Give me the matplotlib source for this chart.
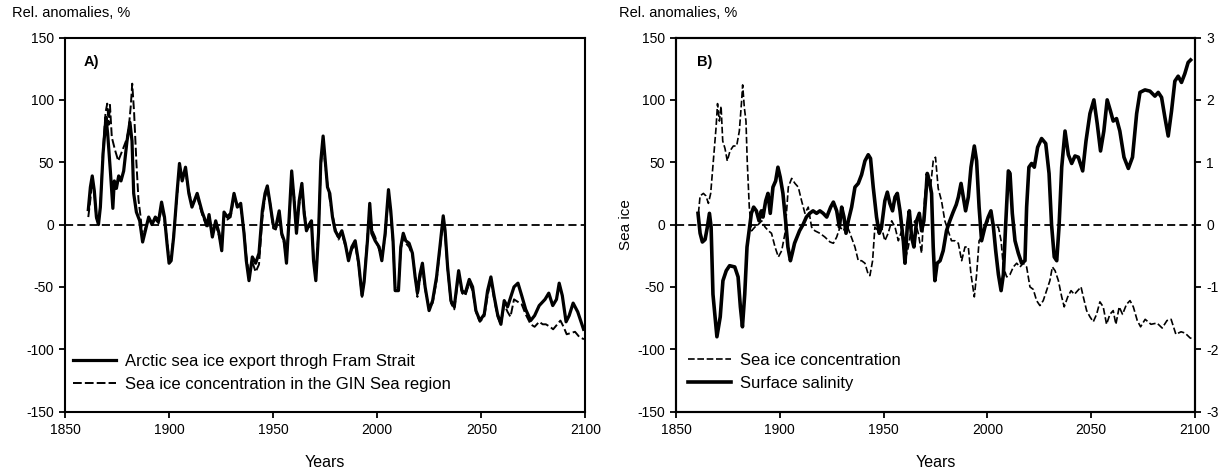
import numpy as np
import matplotlib.pyplot as plt

plt.rcParams['font.family'] = ['Liberation Sans', 'DejaVu Sans']
plt.rcParams['axes.unicode_minus'] = False

# ---- panel A : Fram Strait export vs GIN sea ice concentration (%)
yr_export = [1861.2, 1862.2, 1863.1, 1864.1, 1865.1, 1866.1, 1867, 1868.3, 1869.7, 1870.5,
             1871.8, 1873, 1873.7, 1874.7, 1875.8, 1876.9, 1878.2, 1879.8, 1881.2, 1882.2,
             1883, 1884.3, 1885.9, 1887.3, 1888.6, 1890.2, 1891.8, 1893.4, 1895, 1896.4,
             1897.8, 1899, 1900, 1901, 1902.2, 1903.8, 1905, 1906.3, 1907.9, 1909.5,
             1911, 1913.5, 1915.9, 1918.3, 1919.2, 1920.8, 1922.4, 1924, 1925.3, 1926.4,
             1928, 1929.6, 1931.2, 1932.8, 1934.4, 1936, 1937.1, 1938.4, 1940, 1941.6,
             1943.2, 1944.8, 1946.1, 1947.2, 1948.5, 1950, 1951.3, 1952.9, 1954.1, 1955.3,
             1956.4, 1957.7, 1958.9, 1960.1, 1961.2, 1962.5, 1963.8, 1964.9, 1966, 1967.3,
             1968.4, 1969.4, 1970.5, 1971.8, 1972.9, 1974, 1975, 1976.1, 1977.2, 1978.5,
             1979.8, 1981.4, 1983, 1984.6, 1986.2, 1987.8, 1989.4, 1991, 1992.7, 1993.7,
             1995.3, 1996.4, 1997.4, 1999, 2000.9, 2002.2, 2003.8, 2005.4, 2006.5, 2007.6,
             2008.6, 2010.2, 2011.3, 2012.5, 2013.7, 2015.3, 2016.9, 2018.2, 2019.3, 2020.5,
             2021.7, 2023, 2024.9, 2026.6, 2028.5, 2030.1, 2031.7, 2032.6, 2033.8, 2035.4,
             2037, 2039.1, 2040.7, 2042.3, 2044.2, 2045.8, 2047.4, 2049.3, 2051.4, 2053,
             2054.6, 2056.2, 2057.8, 2059.4, 2061, 2062.6, 2065.7, 2067.6, 2069.4, 2071.3,
             2073.7, 2075.6, 2077.8, 2080.6, 2082.4, 2084.3, 2086.1, 2087.4, 2088.9, 2090.7,
             2092.2, 2094.1, 2096.3, 2099.1]
export = [12, 30, 39, 27, 6, 0, 14, 57, 86, 73,
          43, 13, 35, 29, 39, 35, 43, 67, 82, 67,
          25, 10, 3, -14, -5, 6, 0, 6, 3, 18,
          6, -15, -31, -29, -10, 25, 49, 35, 46, 25,
          14, 25, 10, -1, 8, -10, 3, -7, -21, 10,
          6, 9, 25, 14, 17, -7, -29, -45, -26, -31,
          -23, 11, 25, 31, 17, 0, -2, 11, -7, -13,
          -31, 6, 43, 19, -7, 19, 33, 9, -5, 0,
          3, -29, -45, -7, 51, 71, 51, 30, 25, 6,
          -5, -10, -5, -15, -29, -18, -13, -30, -57, -46,
          -13, 17, -7, -13, -18, -29, -7, 28, 11, -13,
          -53, -53, -18, -7, -13, -15, -23, -42, -55, -40,
          -31, -50, -69, -61, -42, -18, 7, -5, -34, -61,
          -66, -37, -53, -55, -44, -50, -69, -77, -72, -53,
          -42, -58, -72, -80, -61, -66, -50, -47, -57, -68,
          -77, -73, -65, -60, -55, -65, -60, -47, -57, -78,
          -73, -63, -70, -84]

yr_gin = [1861.2, 1862.2, 1863.1, 1864.1, 1865.1, 1866.1, 1867, 1868.3, 1869.5, 1870.3,
          1871, 1871.6, 1872.5, 1874, 1875.6, 1877, 1878.4, 1879.5, 1880.5, 1881.6,
          1882.3, 1883.2, 1884.3, 1885.3, 1886.2, 1887.3, 1888.6, 1890.2, 1891.8, 1893.4,
          1895, 1896.4, 1897.8, 1899, 1900, 1901, 1902.2, 1903.8, 1905, 1906.3,
          1907.9, 1909.5, 1911, 1913.5, 1915.9, 1918.3, 1919.2, 1920.8, 1922.4, 1924,
          1925.3, 1926.4, 1928, 1929.6, 1931.2, 1932.8, 1934.4, 1936, 1937.1, 1938.4,
          1940, 1941.6, 1943.2, 1944.8, 1946.1, 1947.2, 1948.5, 1950, 1951.3, 1952.9,
          1954.1, 1955.3, 1956.4, 1957.7, 1958.9, 1960.1, 1961.2, 1962.5, 1963.8, 1964.9,
          1966, 1967.3, 1968.4, 1969.4, 1970.5, 1971.8, 1972.9, 1974, 1975, 1976.1,
          1977.2, 1978.5, 1979.8, 1981.4, 1983, 1984.6, 1986.2, 1987.8, 1989.4, 1991,
          1992.7, 1993.7, 1995.3, 1996.4, 1997.4, 1999, 2000.9, 2002.2, 2003.8, 2005.4,
          2006.5, 2007.6, 2008.6, 2010.2, 2011.3, 2012.5, 2013.7, 2015.3, 2016.9, 2018.2,
          2019.3, 2020.5, 2021.7, 2023, 2024.9, 2026.6, 2028.5, 2030.1, 2031.7, 2032.6,
          2033.8, 2035.4, 2037, 2039.1, 2040.7, 2042.3, 2044.2, 2045.8, 2047.4, 2049.3,
          2051.4, 2053, 2054.6, 2056.2, 2057.8, 2059.4, 2061, 2062.6, 2064, 2065.7,
          2067.6, 2069.4, 2071.3, 2073.7, 2075.6, 2077.8, 2079.5, 2081, 2083, 2084.5,
          2086.5, 2088, 2089.5, 2091, 2093, 2095, 2097, 2099.3]
gin = [6, 20, 35, 25, 5, 2, 15, 60, 90, 97,
       80, 96, 70, 60, 51, 57, 63, 68, 75, 95,
       113, 90, 50, 20, 8, -10, -3, 5, 2, 4,
       1, 14, 4, -12, -28, -27, -8, 22, 46, 38,
       42, 27, 16, 22, 8, -3, 6, -8, 0, -9,
       -18, 6, 4, 6, 22, 16, 14, -5, -25, -40,
       -30, -38, -32, 5, 22, 28, 18, -3, -4, 8,
       -9, -15, -28, 4, 40, 22, -4, 16, 30, 12,
       -2, -2, 0, -25, -42, -4, 46, 66, 48, 32,
       20, 8, -3, -12, -7, -17, -26, -20, -16, -32,
       -58, -44, -10, 14, -4, -10, -20, -27, -10, 24,
       9, -16, -52, -50, -20, -10, -15, -18, -25, -40,
       -58, -44, -34, -52, -67, -63, -45, -20, 4, -8,
       -36, -63, -68, -40, -55, -57, -47, -53, -70, -78,
       -74, -57, -45, -60, -74, -80, -64, -70, -74, -60,
       -62, -64, -72, -80, -82, -78, -80, -80, -82, -84,
       -80, -77, -82, -88, -87, -86, -90, -92]

# ---- panel B : sea ice concentration (%) and surface salinity (psu anomaly)
yr_ice = [1860.8, 1861.6, 1863.2, 1864.4, 1865.6, 1866.7, 1868, 1869.3, 1870, 1870.9,
          1871.7, 1872.5, 1873.6, 1874.7, 1876, 1877.6, 1879.2, 1880.5, 1881.6, 1882.1,
          1882.9, 1883.7, 1884.3, 1885.3, 1886.4, 1888, 1889.6, 1891.3, 1892.9, 1894.5,
          1896, 1897.7, 1899.3, 1900.9, 1902.5, 1904.1, 1905.7, 1907.3, 1908.9, 1910.5,
          1912.1, 1913.7, 1915.3, 1916.9, 1919.3, 1921.7, 1924.2, 1925.8, 1927.4, 1929,
          1930.6, 1932.2, 1933.8, 1936.2, 1937.8, 1939.4, 1941, 1942.6, 1943.4, 1944.7,
          1945.8, 1947.4, 1949, 1950.6, 1952.2, 1953.9, 1955.5, 1957.1, 1958.7, 1960.3,
          1961.9, 1963.5, 1965.1, 1966.7, 1968.3, 1969.9, 1971.5, 1972.6, 1973.9, 1975,
          1976.3, 1977.9, 1979.5, 1981.1, 1982.7, 1984.4, 1986, 1987.6, 1989.2, 1990.8,
          1992.1, 1993.7, 1994.8, 1996, 1997.2, 1998.8, 2000.4, 2002.1, 2003.7, 2005.3,
          2006.6, 2007.7, 2009.3, 2010.9, 2012.5, 2014.1, 2015.7, 2017.3, 2018.9, 2020.5,
          2022.1, 2023.7, 2025.3, 2026.9, 2028.5, 2030.1, 2031.3, 2032.6, 2034.2, 2035.8,
          2037, 2038.7, 2040.3, 2041.9, 2043.5, 2045.1, 2046.2, 2047.8, 2049.4, 2051,
          2052.6, 2054.2, 2055.8, 2057.4, 2059, 2060.6, 2061.9, 2063.5, 2065.1, 2067,
          2068.7, 2070.3, 2072.2, 2073.8, 2076, 2078.8, 2081.7, 2084.2, 2086.5, 2088.5,
          2090.8, 2093.3, 2095.2, 2097.7, 2100]
ice = [9, 23, 25, 23, 17, 25, 51, 78, 97, 83,
       95, 67, 61, 51, 59, 63, 63, 75, 99, 112,
       94, 83, 51, 14, -5, -2, 0, 3, -2, -5,
       -7, -18, -26, -21, -7, 30, 37, 33, 30, 19,
       9, 14, -2, -5, -7, -10, -14, -15, -10, -2,
       -5, 0, -7, -18, -29, -29, -31, -40, -41, -29,
       -2, -5, -2, -13, -7, 3, -2, -13, -5, -29,
       -18, -2, 3, -7, -23, 25, 41, 30, 51, 54,
       29, 19, 3, -5, -13, -13, -15, -29, -18, -18,
       -40, -58, -40, -13, -10, -2, 3, 3, -2, -2,
       -13, -34, -42, -40, -34, -31, -34, -31, -34, -50,
       -52, -61, -65, -61, -53, -45, -34, -37, -45, -58,
       -66, -58, -53, -56, -53, -50, -58, -69, -74, -78,
       -72, -62, -66, -80, -72, -69, -80, -66, -72, -64,
       -61, -66, -77, -82, -76, -80, -79, -83, -77, -76,
       -88, -86, -87, -91, -92]

yr_sal = [1860.6, 1861.6, 1862.7, 1864, 1865.1, 1866.1, 1866.9, 1867.8, 1869.7, 1871.3,
          1872.6, 1874.2, 1875.8, 1878.3, 1879.9, 1881, 1882, 1883.1, 1884.2, 1885.2,
          1886.3, 1887.4, 1888.7, 1890, 1891.1, 1891.9, 1893.2, 1894.3, 1895.4, 1896.7,
          1898, 1899.1, 1900.2, 1901.5, 1902.8, 1903.9, 1905.1, 1906, 1907.1, 1908.3,
          1909.5, 1911.2, 1912.8, 1914.4, 1916, 1917.7, 1919.3, 1920.9, 1922.6, 1924.5,
          1925.8, 1927.4, 1928.7, 1929.8, 1930.9, 1931.9, 1933, 1934.6, 1936.2, 1937.8,
          1939.4, 1941, 1942.6, 1943.7, 1945, 1946.6, 1947.9, 1949, 1950.6, 1951.8,
          1953, 1954.3, 1955.5, 1956.6, 1957.9, 1959.5, 1960.3, 1961.4, 1962.4, 1963.5,
          1964.6, 1965.9, 1967.2, 1968.3, 1969.4, 1970.4, 1971, 1972, 1973.1, 1973.9,
          1974.7, 1975.8, 1977.2, 1978.7, 1980.3, 1981.9, 1983.5, 1985, 1986, 1987.3,
          1988.4, 1989.5, 1990.8, 1992.1, 1993.7, 1994.8, 1996, 1997.2, 1998.8, 2000.4,
          2001.7, 2002.9, 2004, 2005.3, 2006.6, 2007.7, 2008.8, 2010.1, 2010.9, 2012,
          2013.3, 2014.9, 2016.5, 2018.1, 2018.9, 2020, 2021.3, 2022.6, 2024.2, 2026.1,
          2028.1, 2029.7, 2030.9, 2032.2, 2033.4, 2034.5, 2035.8, 2037.4, 2039, 2040.6,
          2042.2, 2043.8, 2045.9, 2047.5, 2049.4, 2051.3, 2052.9, 2054.5, 2056.1, 2057.7,
          2059.3, 2060.6, 2062.2, 2063.8, 2065.8, 2067.9, 2069.9, 2071.9, 2073.5, 2075.9,
          2078.3, 2080.7, 2082.3, 2083.9, 2085.5, 2087.1, 2088.7, 2090.3, 2091.9, 2093.5,
          2095.1, 2096.7, 2097.9]
salinity = [0.18, -0.14, -0.28, -0.24, -0.04, 0.18, -0.04, -1.12, -1.80, -1.48,
            -0.90, -0.74, -0.66, -0.68, -0.84, -1.32, -1.64, -1.12, -0.36, -0.10,
            0.18, 0.28, 0.22, 0.06, 0.22, 0.12, 0.38, 0.50, 0.18, 0.60,
            0.70, 0.92, 0.76, 0.50, 0.06, -0.36, -0.58, -0.46, -0.30, -0.20,
            -0.10, 0.00, 0.12, 0.18, 0.22, 0.18, 0.22, 0.18, 0.12, 0.28,
            0.36, 0.22, -0.04, 0.28, 0.12, -0.14, 0.06, 0.28, 0.60, 0.66,
            0.80, 1.02, 1.12, 1.06, 0.60, 0.12, -0.14, -0.04, 0.38, 0.52,
            0.34, 0.22, 0.44, 0.50, 0.22, -0.26, -0.62, -0.04, 0.22, -0.20,
            -0.36, 0.06, 0.18, -0.10, 0.06, 0.50, 0.82, 0.70, 0.50, -0.36,
            -0.90, -0.62, -0.58, -0.42, -0.10, 0.06, 0.20, 0.32, 0.44, 0.66,
            0.44, 0.22, 0.44, 0.92, 1.26, 1.02, 0.28, -0.26, -0.04, 0.12,
            0.22, -0.04, -0.42, -0.80, -1.06, -0.80, 0.00, 0.86, 0.82, 0.18,
            -0.26, -0.46, -0.62, -0.58, 0.28, 0.92, 0.98, 0.92, 1.24, 1.38,
            1.30, 0.82, 0.00, -0.52, -0.58, -0.04, 0.92, 1.50, 1.12, 0.98,
            1.10, 1.08, 0.86, 1.34, 1.78, 2.00, 1.62, 1.18, 1.50, 2.00,
            1.82, 1.66, 1.70, 1.50, 1.08, 0.90, 1.08, 1.78, 2.12, 2.16,
            2.14, 2.06, 2.12, 2.04, 1.72, 1.42, 1.82, 2.30, 2.38, 2.28,
            2.42, 2.60, 2.64]

x_ticks = [1850, 1900, 1950, 2000, 2050, 2100]
y_ticks = [-150, -100, -50, 0, 50, 100, 150]
sal_ticks = [-3, -2, -1, 0, 1, 2, 3]

fig = plt.figure(figsize=(12.26, 4.72), dpi=100)
axA = fig.add_axes([0.0530, 0.128, 0.4245, 0.7925])
axB = fig.add_axes([0.5514, 0.128, 0.4233, 0.7925])

zero_style = dict(color='black', lw=1.3, dashes=(4.5, 2.3))
leg_kw = dict(frameon=False, fontsize=12, handlelength=2.6, handletextpad=0.55,
              labelspacing=0.45, borderpad=0, borderaxespad=0, loc='center left')


def style(ax):
    ax.set_xlim(1850, 2100)
    ax.set_ylim(-150, 150)
    ax.set_xticks(x_ticks)
    ax.set_yticks(y_ticks)
    ax.tick_params(direction='out', length=4, width=1.3, labelsize=10, pad=4)
    for s in ax.spines.values():
        s.set_linewidth(1.5)
    ax.axhline(0, **zero_style)
    ax.set_xlabel('Years', fontsize=11.5, labelpad=13)


style(axA)
axA.plot(yr_export, export, color='black', lw=2.3, label='Arctic sea ice export throgh Fram Strait')
axA.plot(yr_gin, gin, color='black', lw=1.4, dashes=(4.5, 1.6),
         label='Sea ice concentration in the GIN Sea region')
axA.text(0.035, 0.935, 'A)', transform=axA.transAxes, fontsize=10.5, fontweight='bold', va='center')
axA.legend(bbox_to_anchor=(0.015, 0.103), **leg_kw)

style(axB)
l_ice, = axB.plot(yr_ice, ice, color='black', lw=1.2, dashes=(4, 1.6), label='Sea ice concentration')
axB.set_ylabel('Sea ice', fontsize=11, labelpad=3)
axB.text(0.04, 0.935, 'B)', transform=axB.transAxes, fontsize=10.5, fontweight='bold', va='center')

axS = axB.twinx()
axS.set_ylim(-3, 3)
axS.set_yticks(sal_ticks)
axS.tick_params(direction='out', length=4, width=1.3, labelsize=10, pad=4)
for s in axS.spines.values():
    s.set_linewidth(1.5)
l_sal, = axS.plot(yr_sal, salinity, color='black', lw=2.6, label='Surface salinity')
axB.legend(handles=[l_ice, l_sal], bbox_to_anchor=(0.023, 0.106), **leg_kw)

fig.text(0.010, 0.973, 'Rel. anomalies, %', fontsize=10.5, va='center')
fig.text(0.505, 0.973, 'Rel. anomalies, %', fontsize=10.5, va='center')

fig.savefig('out.png', dpi=100)
